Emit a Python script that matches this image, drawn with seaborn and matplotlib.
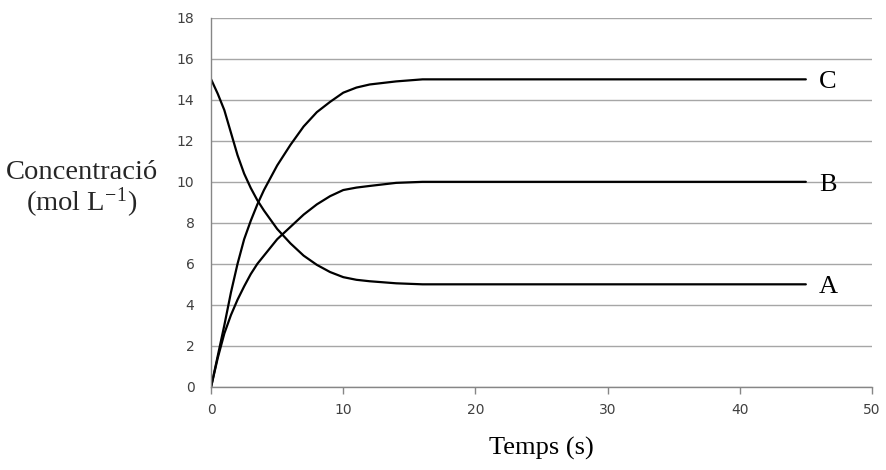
import seaborn as sns
import matplotlib.pyplot as plt
import pandas as pd

# temps (s) i concentracions llegides del grafic
temps = [0, 0.5, 1, 1.5, 2, 2.5, 3, 3.5, 4, 5, 6, 7, 8, 9, 10, 11, 12, 14, 16, 20, 45]
conc_a = [15, 14.3, 13.5, 12.4, 11.3, 10.4, 9.7, 9.1, 8.6, 7.7, 7.0, 6.4, 5.95,
          5.6, 5.35, 5.22, 5.15, 5.05, 5.0, 5.0, 5.0]
conc_b = [0, 1.4, 2.6, 3.5, 4.25, 4.9, 5.5, 6.0, 6.4, 7.2, 7.8, 8.4, 8.9,
          9.3, 9.6, 9.72, 9.8, 9.95, 10, 10, 10]
conc_c = [0, 1.5, 3.0, 4.6, 6.0, 7.2, 8.1, 8.9, 9.6, 10.8, 11.8, 12.7, 13.4,
          13.9, 14.35, 14.6, 14.75, 14.9, 15, 15, 15]
especies = ['A', 'B', 'C']

y_ticks = list(range(0, 19, 2))
x_ticks = list(range(0, 51, 10))

df = pd.DataFrame({'t': temps * 3,
                   'conc': conc_a + conc_b + conc_c,
                   'especie': [e for e in especies for _ in temps]})

sns.set_style('white')
plt.rcParams['font.family'] = ['DejaVu Sans']

fig = plt.figure(figsize=(8.87, 4.70), dpi=100)
ax = fig.add_axes([0.238, 0.177, 0.745, 0.785])

ax.set_axisbelow(True)
ax.grid(axis='y', color='#a6a6a6', linewidth=1)

sns.lineplot(data=df, x='t', y='conc', units='especie', estimator=None,
             color='black', linewidth=1.6, ax=ax)

for e, vals in zip(especies, [conc_a, conc_b, conc_c]):
    ax.text(temps[-1] + 1, vals[-1] - 0.15, e, family='Liberation Serif',
            fontsize=19, ha='left', va='center', color='black')

ax.set_xlim(0, 50)
ax.set_ylim(0, 18)
ax.set_xticks(x_ticks)
ax.set_yticks(y_ticks)
ax.tick_params(axis='x', length=5, width=1, color='#868686', pad=7,
               labelsize=10, labelcolor='#404040', bottom=True)
ax.tick_params(axis='y', length=0, pad=12, labelsize=10, labelcolor='#404040')

for s in ['top', 'right']:
    ax.spines[s].set_visible(False)
for s in ['left', 'bottom']:
    ax.spines[s].set_color('#868686')
    ax.spines[s].set_linewidth(1)

ax.set_xlabel('Temps (s)', family='Liberation Serif', fontsize=19,
              color='black', labelpad=14)
ax.set_ylabel('')
fig.text(0.092, 0.595, 'Concentració\n(mol L$^{\\mathregular{-1}}$)',
         family='Liberation Serif', fontsize=20.5, ha='center', va='center',
         linespacing=1.0, math_fontfamily='stix')

plt.savefig('out.png', dpi=100)
